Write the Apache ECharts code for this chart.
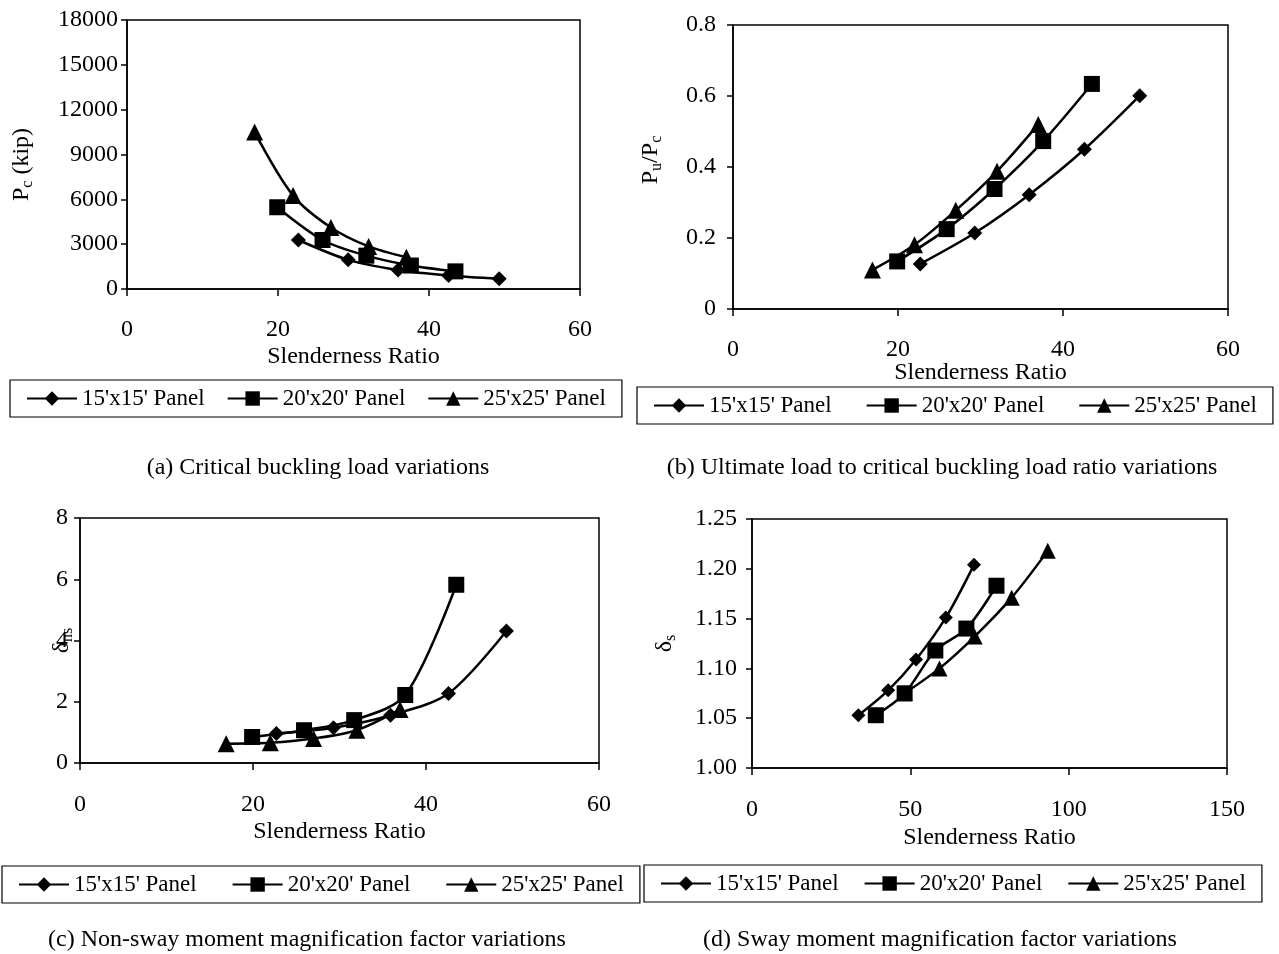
<!DOCTYPE html>
<html>
<head>
<meta charset="utf-8">
<script src="https://cdn.jsdelivr.net/npm/echarts@6/dist/echarts.min.js"></script>
<style>
html, body { margin: 0; padding: 0; background: #fff; }
#chart { width: 1279px; height: 954px; }
</style>
</head>
<body>
<div id="chart"></div>
<script>
var FONT = 'Liberation Serif';
var names = ["15'x15' Panel", "20'x20' Panel", "25'x25' Panel"];
var symbols = ['diamond', 'rect', 'triangle'];

// slenderness ratios (non-sway), panels a, b, c
var slend15 = [22.7, 29.3, 35.9, 42.6, 49.3];
var slend20 = [19.9, 25.9, 31.7, 37.6, 43.5];
var slend25 = [16.9, 22.0, 27.0, 32.0, 37.0];

// (a) critical buckling load, kip
var pc15 = [3280, 1950, 1270, 900, 680];
var pc20 = [5470, 3280, 2230, 1570, 1180];
var pc25 = [10500, 6250, 4120, 2850, 2120];

// (b) Pu/Pc
var pu15 = [0.127, 0.214, 0.322, 0.450, 0.601];
var pu20 = [0.134, 0.225, 0.338, 0.473, 0.634];
var pu25 = [0.110, 0.181, 0.278, 0.388, 0.520];

// (c) non-sway magnification
var dns15 = [0.96, 1.15, 1.56, 2.27, 4.31];
var dns20 = [0.85, 1.07, 1.40, 2.22, 5.82];
var dns25 = [0.63, 0.66, 0.80, 1.07, 1.75];

// (d) sway slenderness and magnification
var sway15x = [33.6, 43.0, 51.8, 61.2, 70.1];
var sway20x = [39.1, 48.2, 57.9, 67.7, 77.2];
var sway25x = [48.2, 59.2, 70.3, 82.0, 93.4];
var ds15 = [1.053, 1.078, 1.109, 1.151, 1.204];
var ds20 = [1.053, 1.075, 1.118, 1.140, 1.183];
var ds25 = [1.075, 1.100, 1.132, 1.171, 1.218];

function pairs(xs, ys) {
    var out = [];
    for (var i = 0; i < xs.length; i++) out.push([xs[i], ys[i]]);
    return out;
}

var grids = [
    { left: 127, top: 20, width: 453, height: 269 },
    { left: 733, top: 25, width: 495, height: 284 },
    { left: 80, top: 518, width: 519, height: 245 },
    { left: 752, top: 519, width: 475, height: 249 }
];

var rich = {
    a: { fontFamily: FONT, fontSize: 24, color: '#000' },
    s: { fontFamily: FONT, fontSize: 16, color: '#000', padding: [12, 0, 0, 0] }
};

function xAxis(i, max, interval, margin, nameGap) {
    return {
        type: 'value', gridIndex: i, min: 0, max: max, interval: interval,
        name: 'Slenderness Ratio', nameLocation: 'middle', nameGap: nameGap,
        nameMoveOverlap: false,
        nameTextStyle: { fontFamily: FONT, fontSize: 24, color: '#000' },
        axisLine: { lineStyle: { color: '#000', width: 1.5 } },
        axisTick: { show: true, length: 7, lineStyle: { color: '#000', width: 1.5 } },
        axisLabel: { fontFamily: FONT, fontSize: 24, color: '#000', margin: margin },
        splitLine: { show: false }
    };
}

function yAxis(i, min, max, interval, name, nameGap, namePad, fmt, margin) {
    return {
        type: 'value', gridIndex: i, min: min, max: max, interval: interval,
        name: name, nameLocation: 'middle', nameGap: nameGap,
        nameMoveOverlap: false,
        nameTextStyle: { fontFamily: FONT, fontSize: 24, color: '#000', rich: rich, padding: namePad },
        axisLine: { show: true, lineStyle: { color: '#000', width: 1.5 } },
        axisTick: { show: true, length: 6, lineStyle: { color: '#000', width: 1.5 } },
        axisLabel: { fontFamily: FONT, fontSize: 24, color: '#000', margin: margin, formatter: fmt },
        splitLine: { show: false }
    };
}

function lineSeries(i, k, data, size) {
    return {
        type: 'line', name: names[k], xAxisIndex: i, yAxisIndex: i,
        data: data, smooth: 0.3, symbol: symbols[k], symbolSize: size,
        lineStyle: { color: '#000', width: 2.5 },
        itemStyle: { color: '#000' }
    };
}

function legend(left, top, gap) {
    return {
        data: names, left: left, top: top,
        orient: 'horizontal', itemGap: gap, itemWidth: 50, itemHeight: 18,
        padding: [7, 16], borderColor: '#000', borderWidth: 1.2,
        selectedMode: false,
        textStyle: { fontFamily: FONT, fontSize: 23, color: '#000' }
    };
}

var series = [];
var sets = [
    [pairs(slend15, pc15), pairs(slend20, pc20), pairs(slend25, pc25)],
    [pairs(slend15, pu15), pairs(slend20, pu20), pairs(slend25, pu25)],
    [pairs(slend15, dns15), pairs(slend20, dns20), pairs(slend25, dns25)],
    [pairs(sway15x, ds15), pairs(sway20x, ds20), pairs(sway25x, ds25)]
];
var sizes = [[15, 16, 17], [15, 16, 17], [15, 16, 17], [14, 16, 16]];
for (var g = 0; g < 4; g++) {
    for (var k = 0; k < 3; k++) series.push(lineSeries(g, k, sets[g][k], sizes[g][k]));
}

var caption = function (text, x, y) {
    return { type: 'text', x: x, y: y, style: { text: text, textAlign: 'center', textVerticalAlign: 'middle', font: '24px "Liberation Serif"', fill: '#000' } };
};

var plain = function (v) { return String(v); };

var option = {
    animation: false,
    backgroundColor: '#fff',
    grid: grids.map(function (g) {
        return Object.assign({ show: true, borderColor: '#000', borderWidth: 1.5, backgroundColor: 'transparent' }, g);
    }),
    xAxis: [
        xAxis(0, 60, 20, 29, 56),
        xAxis(1, 60, 20, 29, 52),
        xAxis(2, 60, 20, 30, 57),
        xAxis(3, 150, 50, 30, 58)
    ],
    yAxis: [
        yAxis(0, 0, 18000, 3000, '{a|P}{s|c}{a| (kip)}', 91, [0, 20, 0, 0], plain, 9),
        yAxis(1, 0, 0.8, 0.2, '{a|P}{s|u}{a|/P}{s|c}', 68, [0, 0, 0, 14], plain, 17),
        yAxis(2, 0, 8, 2, '{a|δ}{s|ns}', 4, [0, 0, 0, 0], plain, 12),
        yAxis(3, 1, 1.25, 0.05, '{a|δ}{s|s}', 73, [0, 0, 0, 0], function (v) { return v.toFixed(2); }, 15)
    ],
    legend: [
        legend(10, 380, 22),
        legend(637, 387, 34),
        legend(2, 866, 35),
        legend(644, 865, 25)
    ],
    series: series,
    graphic: [
        caption('(a) Critical buckling load variations', 318, 468),
        caption('(b) Ultimate load to critical buckling load ratio variations', 942, 468),
        caption('(c) Non-sway moment magnification factor variations', 307, 940),
        caption('(d) Sway moment magnification factor variations', 940, 940)
    ]
};

var chart = echarts.init(document.getElementById('chart'));
chart.setOption(option);
</script>
</body>
</html>
